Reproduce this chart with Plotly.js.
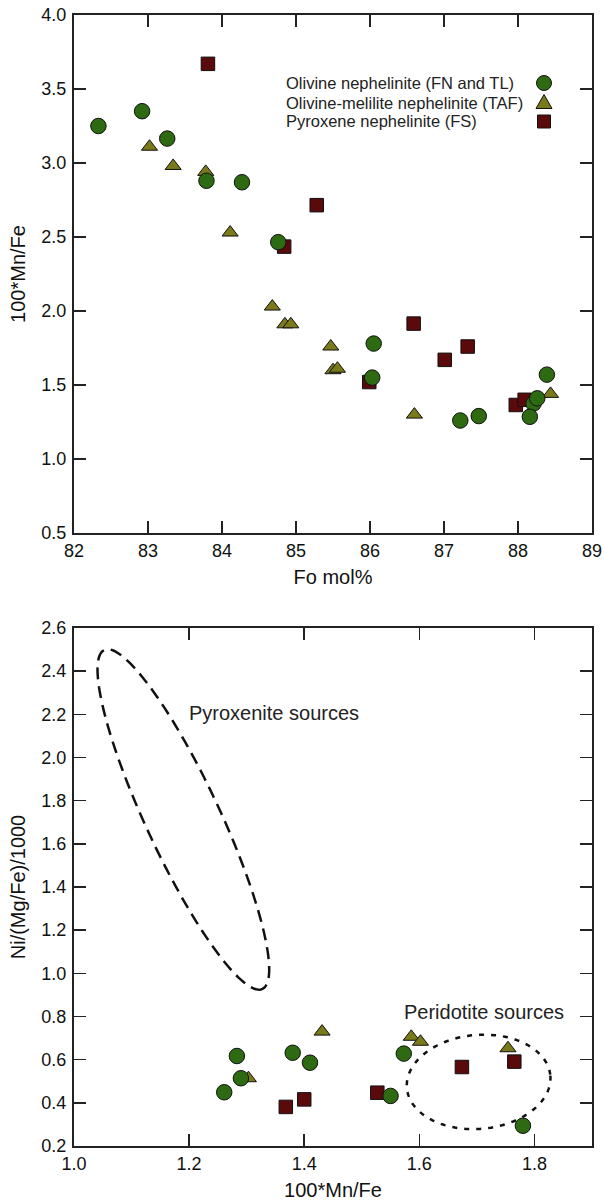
<!DOCTYPE html>
<html>
<head>
<meta charset="utf-8">
<script src="https://cdn.plot.ly/plotly-3.0.1.min.js"></script>
<style>
  html, body { margin: 0; padding: 0; background: #ffffff; }
  #chart { width: 604px; height: 1204px; }
</style>
</head>
<body>
<div id="chart"></div>
<script>
// ---------- Data: top panel (Fo mol% vs 100*Mn/Fe) ----------
const foOlivine   = [82.33, 82.92, 83.26, 83.79, 84.27, 84.76, 86.05, 86.03, 87.22, 87.47, 88.21, 88.26, 88.16, 88.39];
const mnfeOlivine = [3.25, 3.35, 3.165, 2.88, 2.87, 2.465, 1.78, 1.55, 1.26, 1.29, 1.375, 1.41, 1.285, 1.57];

const foMelilite   = [83.02, 83.34, 83.78, 84.11, 84.68, 84.85, 84.93, 85.47, 85.50, 85.56, 86.60, 88.44];
const mnfeMelilite = [3.11, 2.98, 2.94, 2.53, 2.03, 1.91, 1.91, 1.76, 1.60, 1.61, 1.30, 1.44];

const foPyroxene   = [83.81, 84.84, 85.28, 85.99, 86.59, 87.01, 87.32, 87.97, 88.09];
const mnfePyroxene = [3.67, 2.435, 2.715, 1.52, 1.915, 1.67, 1.76, 1.365, 1.40];

// ---------- Data: bottom panel (100*Mn/Fe vs Ni/(Mg/Fe)/1000) ----------
const mnOlivineB = [1.283, 1.290, 1.261, 1.380, 1.410, 1.550, 1.573, 1.780];
const niOlivineB = [0.617, 0.514, 0.449, 0.632, 0.586, 0.432, 0.628, 0.294];

const mnMeliliteB = [1.303, 1.431, 1.586, 1.602, 1.754];
const niMeliliteB = [0.514, 0.730, 0.706, 0.683, 0.653];

const mnPyroxeneB = [1.368, 1.400, 1.527, 1.674, 1.765];
const niPyroxeneB = [0.381, 0.416, 0.447, 0.566, 0.591];

// ---------- Labels ----------
const seriesNames = [
  "Olivine nephelinite (FN and TL)",
  "Olivine-melilite nephelinite (TAF)",
  "Pyroxene nephelinite (FS)"
];
const topXTitle = "Fo mol%";
const topYTitle = "100*Mn/Fe";
const botXTitle = "100*Mn/Fe";
const botYTitle = "Ni/(Mg/Fe)/1000";
const fieldLabels = ["Pyroxenite sources", "Peridotite sources"];

// ---------- Styles ----------
const colGreen = "#2e6a12";
const colOlive = "#7a7a1a";
const colRed   = "#5a0a0a";
const outline  = { color: "#111111", width: 1 };
const FONT = "Liberation Sans, Arial, Helvetica, sans-serif";

const mkCircle = { symbol: "circle", size: 15.5, color: colGreen, line: outline };
const mkTri    = { symbol: "triangle-up", size: 14, color: colOlive, line: outline };
const mkSq     = { symbol: "square", size: 13.5, color: colRed, line: outline };

const traces = [
  { x: foMelilite, y: mnfeMelilite, xaxis: "x", yaxis: "y", mode: "markers", marker: mkTri, name: seriesNames[1], showlegend: false },
  { x: foPyroxene, y: mnfePyroxene, xaxis: "x", yaxis: "y", mode: "markers", marker: mkSq, name: seriesNames[2], showlegend: false },
  { x: foOlivine, y: mnfeOlivine, xaxis: "x", yaxis: "y", mode: "markers", marker: mkCircle, name: seriesNames[0], showlegend: false },

  { x: mnMeliliteB, y: niMeliliteB, xaxis: "x2", yaxis: "y2", mode: "markers", marker: mkTri, name: seriesNames[1], showlegend: false },
  { x: mnPyroxeneB, y: niPyroxeneB, xaxis: "x2", yaxis: "y2", mode: "markers", marker: mkSq, name: seriesNames[2], showlegend: false },
  { x: mnOlivineB, y: niOlivineB, xaxis: "x2", yaxis: "y2", mode: "markers", marker: mkCircle, name: seriesNames[0], showlegend: false }
];

// ---------- Geometry ----------
const W = 604, H = 1204;
const M = { l: 74, r: 12, t: 15, b: 58 };
const plotW = W - M.l - M.r;          // 518
const plotH = H - M.t - M.b;          // 1131
const topDomain = [0.542, 1];
const botDomain = [0, 0.458];
const x2Range = [1.0, 1.9], y2Range = [0.2, 2.6];
const pxPerX2 = plotW / (x2Range[1] - x2Range[0]);
const pxPerY2 = plotH * (botDomain[1] - botDomain[0]) / (y2Range[1] - y2Range[0]);

// Field outline: ellipse given by data-space centre, pixel semi-axes and screen tilt
function ellipsePath(cx, cy, aPx, bPx, thetaDeg, n) {
  const th = thetaDeg * Math.PI / 180;
  let d = "";
  for (let i = 0; i <= n; i++) {
    const t = 2 * Math.PI * i / n;
    const sx = aPx * Math.cos(t) * Math.cos(th) - bPx * Math.sin(t) * Math.sin(th);
    const sy = aPx * Math.cos(t) * Math.sin(th) + bPx * Math.sin(t) * Math.cos(th);
    const x = cx + sx / pxPerX2;
    const y = cy - sy / pxPerY2;
    d += (i === 0 ? "M" : "L") + x.toFixed(5) + "," + y.toFixed(5);
  }
  return d + "Z";
}

const pyroxField = { cx: 1.19, cy: 1.713, a: 187, b: 37, tilt: 65 };
const peridField = { cx: 1.703, cy: 0.497, a: 72, b: 47, tilt: -5 };

const shapes = [
  { type: "path", xref: "x2", yref: "y2", path: ellipsePath(pyroxField.cx, pyroxField.cy, pyroxField.a, pyroxField.b, pyroxField.tilt, 160),
    line: { color: "#111111", width: 2.5, dash: "12px,7px" } },
  { type: "path", xref: "x2", yref: "y2", path: ellipsePath(peridField.cx, peridField.cy, peridField.a, peridField.b, peridField.tilt, 160),
    line: { color: "#111111", width: 2.5, dash: "5px,7px" } }
];

// Legend keys (custom legend: text left, symbol on the right)
const legKeyX = (544 - M.l) / plotW;
const legTextX = (284 - M.l) / plotW;
const legRowsPx = [83, 102.5, 121.5];
const legY = legRowsPx.map(p => (H - M.b - p) / plotH);

shapes.push({ type: "circle", xref: "paper", yref: "paper", xsizemode: "pixel", ysizemode: "pixel",
  xanchor: legKeyX, yanchor: legY[0], x0: -7.5, x1: 7.5, y0: -7.5, y1: 7.5,
  fillcolor: colGreen, line: outline });
shapes.push({ type: "path", xref: "paper", yref: "paper", xsizemode: "pixel", ysizemode: "pixel",
  xanchor: legKeyX, yanchor: legY[1], path: "M-8,-6L8,-6L0,8Z",
  fillcolor: colOlive, line: outline });
shapes.push({ type: "rect", xref: "paper", yref: "paper", xsizemode: "pixel", ysizemode: "pixel",
  xanchor: legKeyX, yanchor: legY[2], x0: -6.5, x1: 6.5, y0: -6.5, y1: 6.5,
  fillcolor: colRed, line: outline });

const annotations = seriesNames.map((s, i) => ({
  text: s, xref: "paper", yref: "paper", x: legTextX, y: legY[i],
  xanchor: "left", yanchor: "middle", showarrow: false,
  font: { family: FONT, size: 16.5, color: "#222222" }
}));
annotations.push({ text: fieldLabels[0], xref: "x2", yref: "y2", x: 1.196, y: 2.206,
  xanchor: "left", yanchor: "middle", showarrow: false, font: { family: FONT, size: 20, color: "#222222" } });
annotations.push({ text: fieldLabels[1], xref: "x2", yref: "y2", x: 1.570, y: 0.821,
  xanchor: "left", yanchor: "middle", showarrow: false, font: { family: FONT, size: 20, color: "#222222" } });

const axisCommon = {
  showline: true, linecolor: "#222222", linewidth: 2, mirror: "ticks",
  ticks: "inside", ticklen: 12, tickwidth: 1.5, tickcolor: "#222222",
  showgrid: false, zeroline: false,
  tickfont: { family: FONT, size: 18, color: "#111111" },
  automargin: false
};

const layout = {
  width: W, height: H,
  margin: M,
  paper_bgcolor: "#ffffff", plot_bgcolor: "#ffffff",
  showlegend: false,
  font: { family: FONT },
  xaxis: Object.assign({}, axisCommon, {
    anchor: "y", domain: [0, 1], range: [82, 89], tick0: 82, dtick: 1,
    title: { text: topXTitle, font: { family: FONT, size: 20, color: "#111111" }, standoff: 10 }
  }),
  yaxis: Object.assign({}, axisCommon, {
    anchor: "x", domain: topDomain, range: [0.5, 4.0], tick0: 0.5, dtick: 0.5, tickformat: ".1f",
    ticklabelstandoff: 2,
    title: { text: topYTitle, font: { family: FONT, size: 20, color: "#111111" }, standoff: 10 }
  }),
  xaxis2: Object.assign({}, axisCommon, {
    anchor: "y2", domain: [0, 1], range: x2Range, tick0: 1.0, dtick: 0.2, tickformat: ".1f",
    title: { text: botXTitle, font: { family: FONT, size: 20, color: "#111111" }, standoff: 10 }
  }),
  yaxis2: Object.assign({}, axisCommon, {
    anchor: "x2", domain: botDomain, range: y2Range, tick0: 0.2, dtick: 0.2, tickformat: ".1f",
    ticklabelstandoff: 2,
    title: { text: botYTitle, font: { family: FONT, size: 20, color: "#111111" }, standoff: 10 }
  }),
  shapes: shapes,
  annotations: annotations
};

Plotly.newPlot("chart", traces, layout, { displayModeBar: false, staticPlot: true });
</script>
</body>
</html>
